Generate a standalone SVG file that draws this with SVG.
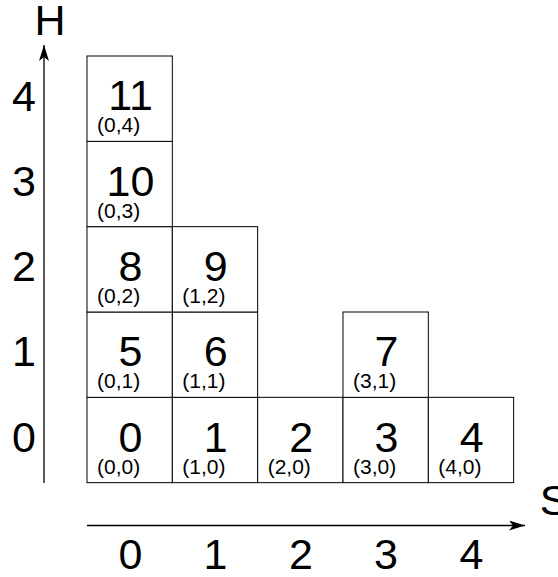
<svg xmlns="http://www.w3.org/2000/svg" width="558" height="577" viewBox="0 0 558 577">
<style>
.cell{fill:#fff;stroke:#000;stroke-width:1}
.big{font-family:"Liberation Sans",Arial,sans-serif;font-size:43px;text-anchor:middle;fill:#000}
.sm{font-family:"Liberation Sans",Arial,sans-serif;font-size:21px;fill:#000}
.ax{font-family:"Liberation Sans",Arial,sans-serif;font-size:43px;text-anchor:middle;fill:#000}
.axis{stroke:#000;stroke-width:1.3;fill:none}
</style>
<defs>
<marker id="arr" viewBox="0 0 16 10" refX="16" refY="5" markerWidth="16" markerHeight="10" markerUnits="userSpaceOnUse" orient="auto">
<path d="M0,0 L16,5 L0,10 L4,5 Z" fill="#000"/>
</marker>
</defs>
<rect width="558" height="577" fill="#fff"/>
<g id="connectors">
<line class="axis" x1="44" y1="483" x2="44" y2="45" marker-end="url(#arr)"/>
<line class="axis" x1="87" y1="525.5" x2="525" y2="525.5" marker-end="url(#arr)"/>
</g>
<g id="axis-labels">
<text class="ax" x="50" y="34.5">H</text>
<text class="ax" x="554" y="514.5">S</text>
<text class="ax" x="24" y="110.5">4</text>
<text class="ax" x="24" y="195.5">3</text>
<text class="ax" x="24" y="281">2</text>
<text class="ax" x="24" y="366">1</text>
<text class="ax" x="24" y="451.5">0</text>
<text class="ax" x="130.5" y="568.5">0</text>
<text class="ax" x="215.5" y="568.5">1</text>
<text class="ax" x="301" y="568.5">2</text>
<text class="ax" x="386" y="568.5">3</text>
<text class="ax" x="471.5" y="568.5">4</text>
</g>
<g id="n0"><rect class="cell" x="87" y="397.33" width="85.33" height="85.33"/><text class="big" x="130.5" y="451.5">0</text><text class="sm" x="97" y="473.5">(0,0)</text></g>
<g id="n1"><rect class="cell" x="172.33" y="397.33" width="85.33" height="85.33"/><text class="big" x="215.8" y="451.5">1</text><text class="sm" x="182.3" y="473.5">(1,0)</text></g>
<g id="n2"><rect class="cell" x="257.67" y="397.33" width="85.33" height="85.33"/><text class="big" x="301.2" y="451.5">2</text><text class="sm" x="267.7" y="473.5">(2,0)</text></g>
<g id="n3"><rect class="cell" x="343" y="397.33" width="85.33" height="85.33"/><text class="big" x="386.5" y="451.5">3</text><text class="sm" x="353" y="473.5">(3,0)</text></g>
<g id="n4"><rect class="cell" x="428.33" y="397.33" width="85.33" height="85.33"/><text class="big" x="471.8" y="451.5">4</text><text class="sm" x="438.3" y="473.5">(4,0)</text></g>
<g id="n5"><rect class="cell" x="87" y="312" width="85.33" height="85.33"/><text class="big" x="130.5" y="366.2">5</text><text class="sm" x="97" y="388.2">(0,1)</text></g>
<g id="n6"><rect class="cell" x="172.33" y="312" width="85.33" height="85.33"/><text class="big" x="215.8" y="366.2">6</text><text class="sm" x="182.3" y="388.2">(1,1)</text></g>
<g id="n7"><rect class="cell" x="343" y="312" width="85.33" height="85.33"/><text class="big" x="386.5" y="366.2">7</text><text class="sm" x="353" y="388.2">(3,1)</text></g>
<g id="n8"><rect class="cell" x="87" y="226.67" width="85.33" height="85.33"/><text class="big" x="130.5" y="280.8">8</text><text class="sm" x="97" y="302.8">(0,2)</text></g>
<g id="n9"><rect class="cell" x="172.33" y="226.67" width="85.33" height="85.33"/><text class="big" x="215.8" y="280.8">9</text><text class="sm" x="182.3" y="302.8">(1,2)</text></g>
<g id="n10"><rect class="cell" x="87" y="141.33" width="85.33" height="85.33"/><text class="big" x="130.5" y="195.5">10</text><text class="sm" x="97" y="217.5">(0,3)</text></g>
<g id="n11"><rect class="cell" x="87" y="56" width="85.33" height="85.33"/><text class="big" x="130.5" y="110.2">11</text><text class="sm" x="97" y="132.2">(0,4)</text></g>
</svg>
